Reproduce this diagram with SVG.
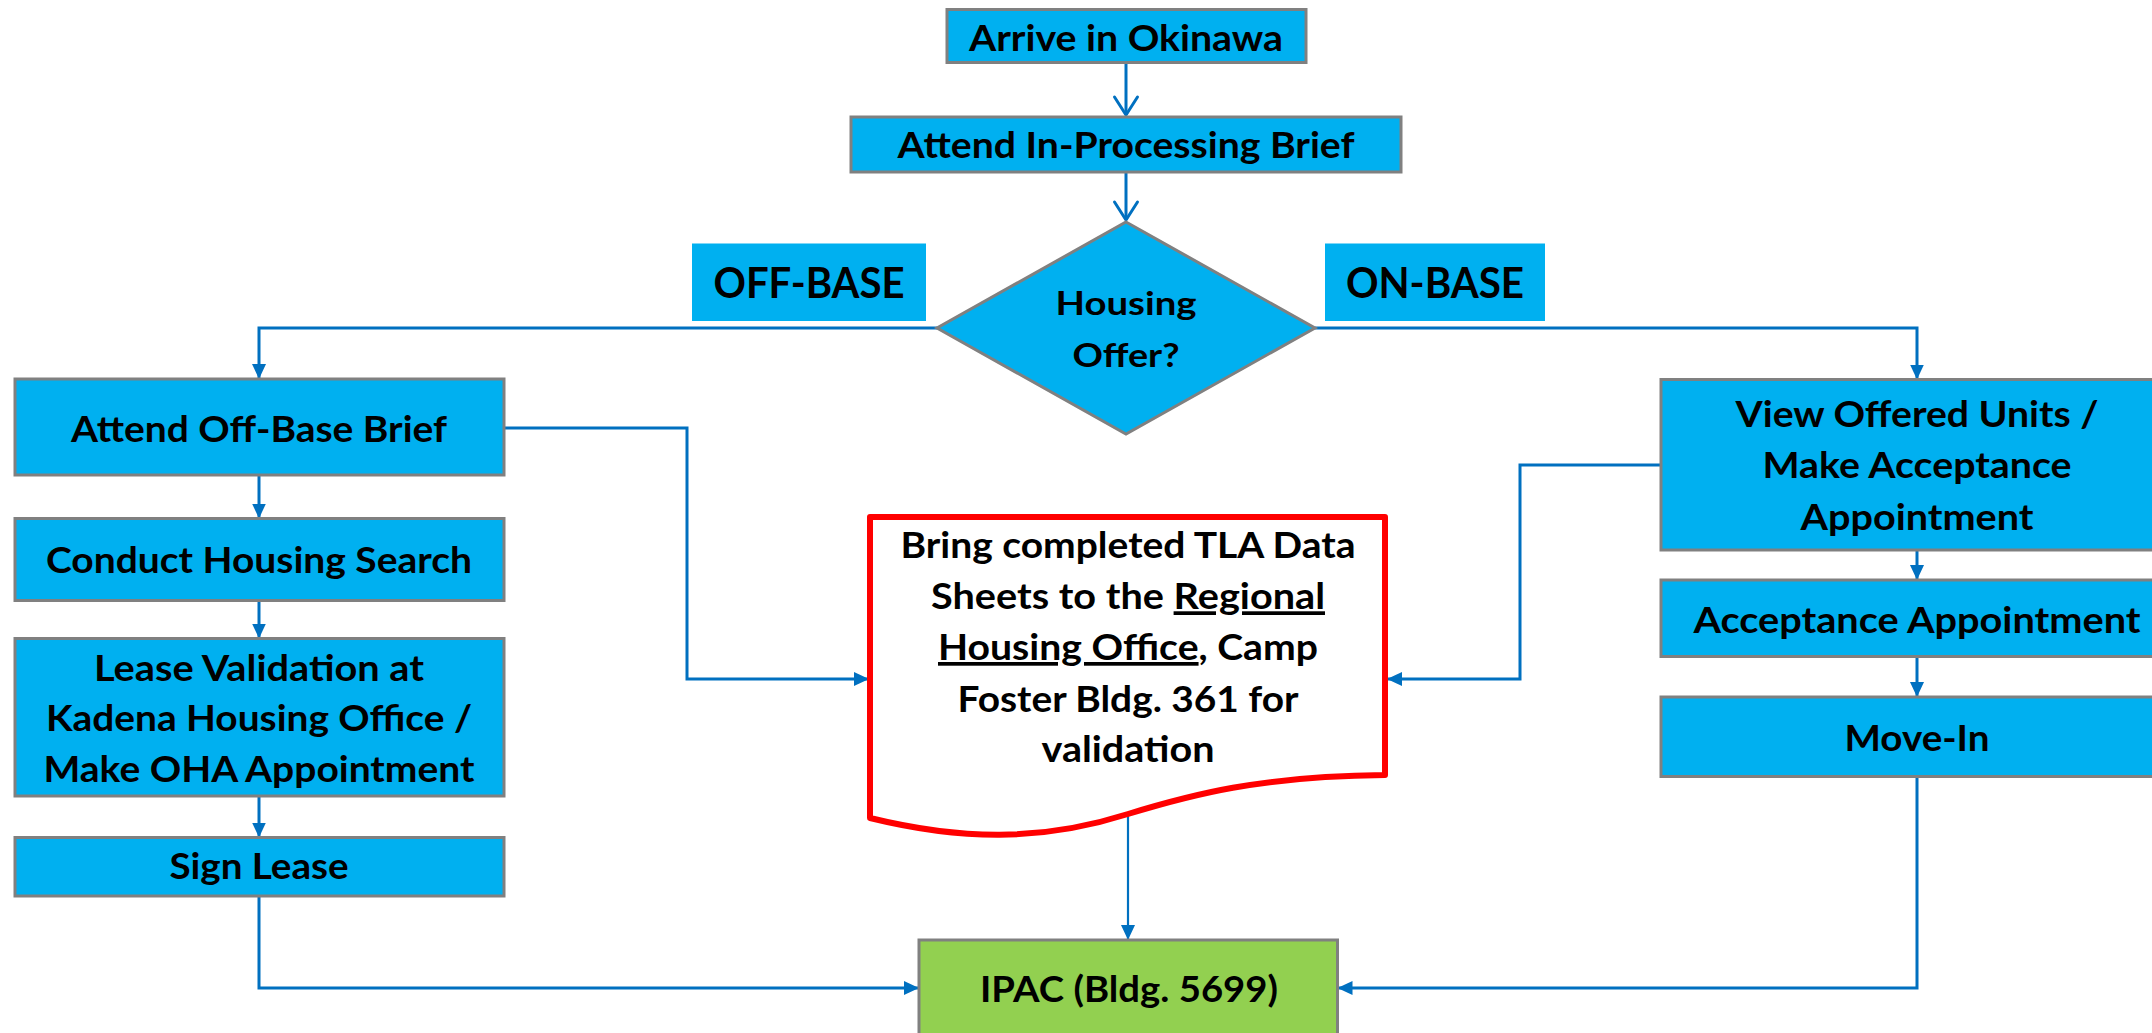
<svg xmlns="http://www.w3.org/2000/svg" width="2152" height="1033" viewBox="0 0 2152 1033">
  <style>
    .box { fill: #00B0F0; stroke: #808080; stroke-width: 3; }
    .tag { fill: #00B0F0; }
    .ipac { fill: #92D050; stroke: #808080; stroke-width: 3; }
    .doc { fill: #FFFFFF; stroke: #FF0000; stroke-width: 6; stroke-linejoin: round; }
    .lbl { font-family: Lato, "Liberation Sans", sans-serif; font-weight: bold; font-size: 37px; fill: #000000; text-anchor: middle; }
    .big { font-size: 42px; }
    .dia { font-size: 32px; }
    .link { fill: none; stroke: #0070C0; stroke-width: 3; }
    .thin { stroke-width: 2.2; }
    .u { text-decoration: underline; }
  </style>
  <defs>
    <marker id="tri" viewBox="0 0 15 14" refX="15" refY="7" markerWidth="15" markerHeight="14" markerUnits="userSpaceOnUse" orient="auto">
      <path d="M0,0 L15,7 L0,14 Z" fill="#0070C0"/>
    </marker>
    <marker id="vee" viewBox="-3 -3 24 29" refX="18" refY="11.5" markerWidth="24" markerHeight="29" markerUnits="userSpaceOnUse" orient="auto">
      <path d="M0,0 L18,11.5 L0,23" fill="none" stroke="#0070C0" stroke-width="3" stroke-linecap="round" stroke-linejoin="round"/>
    </marker>
  </defs>

  <rect width="2152" height="1033" fill="#FFFFFF"/>

  <g id="connectors">
    <path class="link" d="M1126,62.5 V115" marker-end="url(#vee)"/>
    <path class="link" d="M1126,172 V220" marker-end="url(#vee)"/>
    <path class="link" d="M937,328 H259 V379" marker-end="url(#tri)"/>
    <path class="link" d="M1315,328 H1917 V379.5" marker-end="url(#tri)"/>
    <path class="link" d="M259,475 V518.5" marker-end="url(#tri)"/>
    <path class="link" d="M259,600.5 V638.5" marker-end="url(#tri)"/>
    <path class="link" d="M259,796 V837.5" marker-end="url(#tri)"/>
    <path class="link" d="M259,896 V988 H919" marker-end="url(#tri)"/>
    <path class="link" d="M504,428 H687 V679 H869" marker-end="url(#tri)"/>
    <path class="link" d="M1661,465 H1520 V679 H1387" marker-end="url(#tri)"/>
    <path class="link" d="M1917,550 V580" marker-end="url(#tri)"/>
    <path class="link" d="M1917,656.5 V697" marker-end="url(#tri)"/>
    <path class="link" d="M1917,776.5 V988 H1337.5" marker-end="url(#tri)"/>
    <path class="link thin" d="M1128,816 V940" marker-end="url(#tri)"/>
  </g>

  <g id="arrive">
    <rect class="box" x="947" y="9.5" width="359" height="53"/>
    <text class="lbl" x="1126" y="50.7" textLength="314" lengthAdjust="spacingAndGlyphs">Arrive in Okinawa</text>
  </g>

  <g id="inprocessing">
    <rect class="box" x="851" y="117" width="550" height="55"/>
    <text class="lbl" x="1126" y="158.3" textLength="457" lengthAdjust="spacingAndGlyphs">Attend In-Processing Brief</text>
  </g>

  <g id="housing-offer">
    <polygon class="box" points="1126,222 1315,328 1126,434 937,328"/>
    <text class="lbl dia" x="1126" y="315" textLength="141" lengthAdjust="spacingAndGlyphs">Housing</text>
    <text class="lbl dia" x="1126" y="366.7" textLength="107" lengthAdjust="spacingAndGlyphs">Offer?</text>
  </g>

  <g id="off-base-tag">
    <rect class="tag" x="692" y="243.5" width="234" height="77.5"/>
    <text class="lbl big" x="809" y="298.3" textLength="191" lengthAdjust="spacingAndGlyphs">OFF-BASE</text>
  </g>

  <g id="on-base-tag">
    <rect class="tag" x="1325" y="243.5" width="220" height="77.5"/>
    <text class="lbl big" x="1435" y="298.3" textLength="178" lengthAdjust="spacingAndGlyphs">ON-BASE</text>
  </g>

  <g id="off-base-brief">
    <rect class="box" x="15" y="379" width="489" height="96"/>
    <text class="lbl" x="259" y="441.7" textLength="376" lengthAdjust="spacingAndGlyphs">Attend Off-Base Brief</text>
  </g>

  <g id="housing-search">
    <rect class="box" x="15" y="518.5" width="489" height="82"/>
    <text class="lbl" x="259" y="573.3" textLength="426" lengthAdjust="spacingAndGlyphs">Conduct Housing Search</text>
  </g>

  <g id="lease-validation">
    <rect class="box" x="15" y="638.5" width="489" height="157.5"/>
    <text class="lbl" x="259" y="680.7" textLength="330" lengthAdjust="spacingAndGlyphs">Lease Validation at</text>
    <text class="lbl" x="259" y="731" textLength="426" lengthAdjust="spacingAndGlyphs">Kadena Housing Office /</text>
    <text class="lbl" x="259" y="782.3" textLength="431" lengthAdjust="spacingAndGlyphs">Make OHA Appointment</text>
  </g>

  <g id="sign-lease">
    <rect class="box" x="15" y="837.5" width="489" height="58.5"/>
    <text class="lbl" x="259" y="879.3" textLength="179" lengthAdjust="spacingAndGlyphs">Sign Lease</text>
  </g>

  <g id="tla-data-sheets">
    <path class="doc" d="M870,517 H1385 V775 C1260,776 1190,795 1128,814 C1040,842 960,840 870,818 Z"/>
    <text class="lbl" x="1128" y="558.3" textLength="455" lengthAdjust="spacingAndGlyphs">Bring completed TLA Data</text>
    <text class="lbl" x="1128" y="609.3" textLength="394" lengthAdjust="spacingAndGlyphs">Sheets to the <tspan class="u">Regional</tspan></text>
    <text class="lbl" x="1128" y="660" textLength="380" lengthAdjust="spacingAndGlyphs"><tspan class="u">Housing Office</tspan>, Camp</text>
    <text class="lbl" x="1128" y="711.7" textLength="341" lengthAdjust="spacingAndGlyphs">Foster Bldg. 361 for</text>
    <text class="lbl" x="1128" y="762.3" textLength="173" lengthAdjust="spacingAndGlyphs">validation</text>
  </g>

  <g id="view-units">
    <rect class="box" x="1661" y="379.5" width="512" height="170.5"/>
    <text class="lbl" x="1917" y="427.3" textLength="363" lengthAdjust="spacingAndGlyphs">View Offered Units /</text>
    <text class="lbl" x="1917" y="478.3" textLength="309" lengthAdjust="spacingAndGlyphs">Make Acceptance</text>
    <text class="lbl" x="1917" y="530" textLength="233" lengthAdjust="spacingAndGlyphs">Appointment</text>
  </g>

  <g id="acceptance">
    <rect class="box" x="1661" y="580" width="512" height="76.5"/>
    <text class="lbl" x="1917" y="632.7" textLength="447" lengthAdjust="spacingAndGlyphs">Acceptance Appointment</text>
  </g>

  <g id="move-in">
    <rect class="box" x="1661" y="697" width="512" height="79.5"/>
    <text class="lbl" x="1917" y="750.7" textLength="145" lengthAdjust="spacingAndGlyphs">Move-In</text>
  </g>

  <g id="ipac">
    <rect class="ipac" x="919" y="940" width="418.5" height="105"/>
    <text class="lbl" x="1129" y="1001.7" font-size="36" textLength="298" lengthAdjust="spacingAndGlyphs">IPAC (Bldg. 5699)</text>
  </g>
</svg>
